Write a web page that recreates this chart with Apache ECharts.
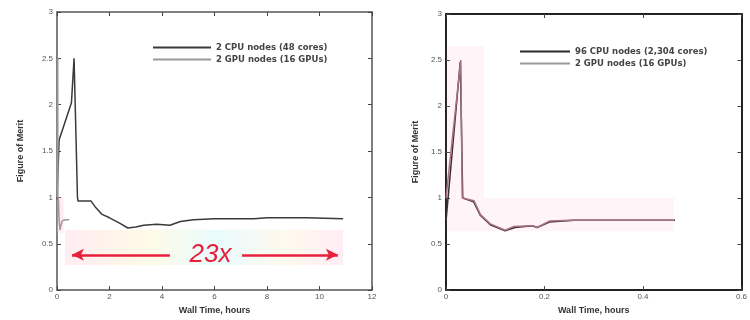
<!DOCTYPE html>
<html>
<head>
<meta charset="utf-8">
<script src="https://cdn.jsdelivr.net/npm/echarts@6/dist/echarts.min.js"></script>
<style>
  html, body { margin: 0; padding: 0; background: #fff; }
  #main { width: 750px; height: 320px; }
</style>
</head>
<body>
<div id="main"></div>
<script>
// 2 CPU nodes, left panel (hours, figure of merit)
var cpu2Hours = [0, 0.08, 0.55, 0.65, 0.78, 0.8, 1.3, 1.45, 1.7, 2.0, 2.4, 2.7, 3.0, 3.3, 3.8, 4.3, 4.7, 5.2, 6.0, 7.5, 8.0, 9.5, 10.9];
var cpu2Fom   = [0.98, 1.62, 2.02, 2.5, 1.0, 0.96, 0.96, 0.9, 0.82, 0.78, 0.72, 0.67, 0.68, 0.7, 0.71, 0.7, 0.74, 0.76, 0.77, 0.77, 0.78, 0.78, 0.77];

// 2 GPU nodes (both panels)
var gpuHours = [0, 0.03, 0.033, 0.057, 0.07, 0.09, 0.12, 0.137, 0.176, 0.185, 0.21, 0.255, 0.35, 0.463];
var gpuFom   = [1.0, 2.5, 1.0, 0.97, 0.82, 0.72, 0.65, 0.69, 0.70, 0.68, 0.75, 0.76, 0.76, 0.76];

// 96 CPU nodes, right panel
var cpu96Hours = [0, 0.029, 0.034, 0.056, 0.07, 0.09, 0.12, 0.14, 0.175, 0.185, 0.21, 0.26, 0.35, 0.465];
var cpu96Fom   = [0.75, 2.48, 1.0, 0.96, 0.81, 0.71, 0.645, 0.68, 0.70, 0.68, 0.74, 0.76, 0.76, 0.76];

var leftNames = ['2 CPU nodes (48 cores)', '2 GPU nodes (16 GPUs)'];
var rightNames = ['96 CPU nodes (2,304 cores)', '2 GPU nodes (16 GPUs)'];

function pairs(xs, ys) {
  return xs.map(function (x, i) { return [x, ys[i]]; });
}

var chart = echarts.init(document.getElementById('main'));

var axisText = { color: '#555', fontSize: 8, fontFamily: 'Liberation Sans' };
var nameText = { color: '#333', fontSize: 9, fontWeight: 'bold', fontFamily: 'Liberation Sans' };

function xAxisFor(grid, max, interval, pos) {
  var main = pos === 'bottom';
  return {
    type: 'value', gridIndex: grid, position: pos, min: 0, max: max, interval: interval,
    name: main ? 'Wall Time, hours' : '', nameLocation: 'middle', nameGap: 14, nameTextStyle: nameText,
    axisLine: { show: true, onZero: false, lineStyle: { color: grid ? '#222' : '#555', width: grid ? 2 : 1.5 } },
    axisTick: { show: true, inside: true, length: 4, lineStyle: { color: '#444' } },
    axisLabel: { show: main, margin: 3, color: axisText.color, fontSize: axisText.fontSize, fontFamily: axisText.fontFamily },
    splitLine: { show: false }
  };
}
function yAxisFor(grid, pos) {
  var main = pos === 'left';
  return {
    type: 'value', gridIndex: grid, position: pos, min: 0, max: 3, interval: 0.5,
    name: main ? 'Figure of Merit' : '', nameLocation: 'middle', nameGap: grid ? 26 : 32, nameTextStyle: nameText,
    axisLine: { show: true, onZero: false, lineStyle: { color: grid ? '#222' : '#555', width: grid ? 2 : 1.5 } },
    axisTick: { show: true, inside: true, length: 4, lineStyle: { color: '#444' } },
    axisLabel: { show: main, margin: 4, color: axisText.color, fontSize: axisText.fontSize, fontFamily: axisText.fontFamily },
    splitLine: { show: false }
  };
}

var legendText = { fontSize: 8.5, fontWeight: 'bold', color: '#444', fontFamily: 'DejaVu Sans' };

var option = {
  animation: false,
  backgroundColor: '#fff',
  grid: [
    { left: 57, right: 378, top: 12, bottom: 27 },
    { left: 446, right: 3, top: 14, bottom: 27 }
  ],
  xAxis: [
    xAxisFor(0, 12, 2, 'bottom'), xAxisFor(0, 12, 2, 'top'),
    xAxisFor(1, 0.6, 0.2, 'bottom'), xAxisFor(1, 0.6, 0.2, 'top')
  ],
  yAxis: [
    yAxisFor(0, 'left'), yAxisFor(0, 'right'),
    yAxisFor(1, 'left'), yAxisFor(1, 'right')
  ],
  legend: [
    {
      data: leftNames, orient: 'vertical', left: 148, top: 38, itemGap: 3,
      itemWidth: 58, itemHeight: 2, icon: 'rect', textStyle: legendText
    },
    {
      data: rightNames, orient: 'vertical', left: 515, top: 42, itemGap: 3,
      itemWidth: 50, itemHeight: 2, icon: 'rect', textStyle: legendText
    }
  ],
  series: [
    {
      name: leftNames[0], type: 'line', xAxisIndex: 0, yAxisIndex: 0,
      data: pairs(cpu2Hours, cpu2Fom), showSymbol: false,
      lineStyle: { color: '#3a3a3a', width: 1.5 }, itemStyle: { color: '#3a3a3a' },
      markArea: {
        silent: true, z: 1,
        itemStyle: {
          color: new echarts.graphic.LinearGradient(0, 0, 1, 0, [
            { offset: 0, color: 'rgba(255,205,215,0.35)' },
            { offset: 0.3, color: 'rgba(255,245,200,0.45)' },
            { offset: 0.55, color: 'rgba(200,245,250,0.4)' },
            { offset: 0.8, color: 'rgba(255,240,210,0.4)' },
            { offset: 1, color: 'rgba(255,210,230,0.4)' }
          ])
        },
        data: [
          [{ coord: [0.3, 0.27] }, { coord: [10.9, 0.65] }],
          [{ coord: [0, 0.62], itemStyle: { color: 'rgba(255,190,205,0.3)' } }, { coord: [0.25, 1.0] }]
        ]
      },
      markLine: {
        silent: true, animation: false,
        lineStyle: { color: '#e8203c', width: 2.5, type: 'solid' },
        label: { show: false },
        symbolSize: [9, 12],
        data: [
          [{ coord: [0.57, 0.38], symbol: 'arrow' }, { coord: [4.3, 0.38], symbol: 'none' }],
          [{ coord: [7.05, 0.38], symbol: 'none' }, { coord: [10.7, 0.38], symbol: 'arrow' }]
        ]
      },
      markPoint: {
        silent: true, symbol: 'circle', symbolSize: 0,
        label: {
          show: true, formatter: '23x', color: '#e8203c', fontSize: 26, fontStyle: 'italic',
          fontFamily: 'Liberation Sans', position: 'inside'
        },
        data: [{ coord: [5.85, 0.38] }]
      }
    },
    {
      name: leftNames[1], type: 'line', xAxisIndex: 0, yAxisIndex: 0,
      data: pairs(gpuHours, gpuFom), showSymbol: false,
      lineStyle: { color: '#9a9a9a', width: 1.5 }, itemStyle: { color: '#9a9a9a' }
    },
    {
      name: rightNames[0], type: 'line', xAxisIndex: 2, yAxisIndex: 2,
      data: pairs(cpu96Hours, cpu96Fom), showSymbol: false,
      lineStyle: { color: '#2a2a2a', width: 1.5 }, itemStyle: { color: '#2a2a2a' }
    },
    {
      name: rightNames[1], type: 'line', xAxisIndex: 2, yAxisIndex: 2, z: 3,
      data: pairs(gpuHours, gpuFom), showSymbol: false,
      lineStyle: { color: '#a07080', width: 1.5 }, itemStyle: { color: '#9a9a9a' },
      markArea: {
        silent: true, z: 10,
        itemStyle: { color: 'rgba(255,130,170,0.08)' },
        data: [
          [{ coord: [0, 1.0] }, { coord: [0.077, 2.65] }],
          [{ coord: [0, 0.64] }, { coord: [0.463, 1.0] }]
        ]
      }
    }
  ]
};

chart.setOption(option);
</script>
</body>
</html>
